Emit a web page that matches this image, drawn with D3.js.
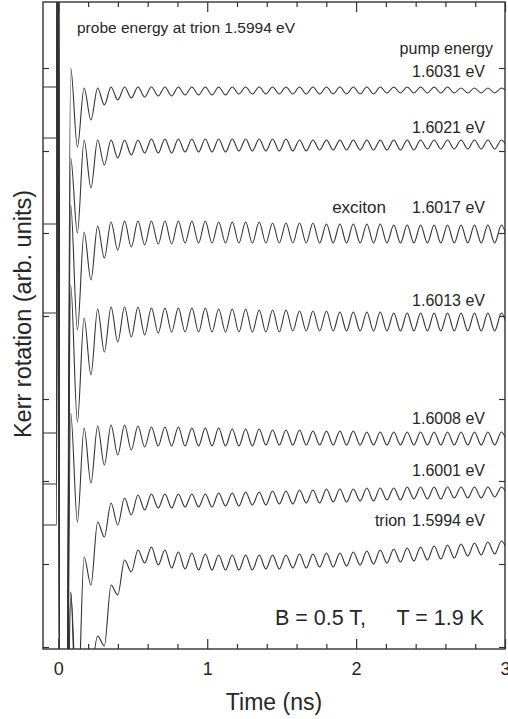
<!DOCTYPE html>
<html>
<head>
<meta charset="utf-8">
<script src="https://cdn.jsdelivr.net/npm/d3@7"></script>
<style>
  body { margin: 0; background: #fff; }
  text { font-family: "Liberation Sans", Arial, Helvetica, sans-serif; fill: #262626; }
</style>
</head>
<body>
<script>
let w = 508;
let h = 719;

// time axis (ns)
let majorTicks = [0, 1, 2, 3];
let minorTicks = [0.2, 0.4, 0.6, 0.8, 1.2, 1.4, 1.6, 1.8, 2.2, 2.4, 2.6, 2.8];
// Kerr rotation ticks (arb. units, no labels)
let yTicks = [2, 85, 168, 250, 333, 416, 498, 581];

// sample times: before zero, the pump spike, then the oscillation extrema
let times = [-0.103, -0.012, -0.002, 0.012, 0.05,
  0.083, 0.128, 0.173, 0.219, 0.264, 0.309, 0.354, 0.399, 0.445, 0.490,
  0.535, 0.580, 0.625, 0.671, 0.716, 0.761, 0.806, 0.851, 0.897, 0.942,
  0.987, 1.032, 1.077, 1.123, 1.168, 1.213, 1.258, 1.303, 1.349, 1.394,
  1.439, 1.484, 1.529, 1.575, 1.620, 1.665, 1.710, 1.755, 1.801, 1.846,
  1.891, 1.936, 1.981, 2.027, 2.072, 2.117, 2.162, 2.207, 2.253, 2.298,
  2.343, 2.388, 2.433, 2.479, 2.524, 2.569, 2.614, 2.659, 2.705, 2.750,
  2.795, 2.840, 2.885, 2.931, 2.976, 3.021];

// pump energies (labels)
let pumpLabels = ["1.6031 eV", "1.6021 eV", "1.6017 eV", "1.6013 eV", "1.6008 eV", "1.6001 eV", "1.5994 eV"];

// Kerr rotation traces, offset for clarity (arb. units)
let k6031 = [562, 562, 950, -350, -300,
  581, 502, 561, 529, 561, 544, 562, 549, 562, 551,
  562, 552, 562, 553, 562, 553, 562, 554, 562, 554,
  562, 554, 562, 554, 562, 555, 562, 555, 562, 555,
  562, 555, 562, 555, 562, 555, 562, 555, 562, 555,
  562, 555, 562, 555, 562, 555, 562, 556, 562, 556,
  562, 556, 562, 556, 562, 556, 562, 556, 561, 556,
  561, 556, 561, 556, 561, 556];
let k6021 = [511, 511, 950, -350, -300,
  491, 416, 509, 461, 509, 484, 509, 491, 509, 494,
  509, 496, 510, 496, 510, 496, 510, 497, 510, 497,
  510, 497, 510, 497, 510, 498, 510, 498, 510, 498,
  510, 498, 510, 498, 509, 498, 509, 499, 509, 499,
  509, 499, 509, 499, 509, 499, 509, 499, 509, 499,
  509, 499, 509, 500, 509, 500, 509, 500, 509, 500,
  509, 500, 509, 500, 509, 500];
let k6017 = [425, 425, 950, -350, -300,
  444, 319, 417, 369, 423, 391, 427, 399, 428, 402,
  428, 404, 428, 405, 428, 405, 428, 406, 428, 406,
  428, 406, 427, 406, 427, 406, 427, 406, 427, 406,
  426, 406, 426, 406, 426, 406, 426, 406, 425, 406,
  425, 406, 425, 406, 425, 406, 425, 406, 424, 406,
  424, 406, 424, 406, 424, 406, 424, 406, 424, 406,
  424, 406, 424, 406, 424, 406];
let k6013 = [336, 336, 950, -350, -300,
  364, 227, 331, 274, 340, 297, 342, 307, 342, 312,
  342, 314, 341, 316, 341, 317, 341, 317, 341, 317,
  341, 317, 340, 317, 340, 317, 340, 317, 339, 317,
  339, 317, 339, 318, 338, 318, 338, 318, 338, 318,
  337, 318, 337, 318, 337, 318, 337, 318, 336, 318,
  336, 318, 336, 318, 336, 318, 336, 318, 336, 318,
  336, 318, 336, 318, 336, 318];
let k6008 = [216, 216, 950, -350, -300,
  236, 127, 221, 166, 223, 184, 224, 194, 224, 199,
  223, 202, 222, 203, 222, 203, 222, 203, 221, 203,
  221, 203, 221, 203, 220, 203, 220, 203, 220, 204,
  219, 204, 219, 204, 219, 204, 218, 204, 218, 204,
  218, 204, 218, 204, 217, 204, 217, 204, 217, 204,
  217, 204, 217, 204, 217, 204, 217, 204, 217, 204,
  217, 204, 217, 204, 217, 204];
let k6001 = [165, 165, 950, -350, -300,
  57, -71, 92, 64, 127, 112, 146, 124, 151, 134,
  154, 139, 155, 141, 155, 141, 155, 142, 155, 142,
  155, 142, 156, 143, 156, 143, 157, 144, 157, 144,
  158, 145, 158, 145, 159, 146, 159, 146, 160, 147,
  160, 147, 160, 148, 161, 148, 161, 149, 161, 149,
  162, 150, 162, 150, 162, 150, 162, 151, 162, 151,
  162, 151, 162, 152, 162, 152];
let k5994 = [124, 124, 950, -350, -300,
  57, -111, -71, -31, 13, 3, 64, 54, 89, 77,
  99, 86, 102, 84, 99, 81, 97, 80, 96, 79,
  95, 79, 94, 79, 94, 79, 94, 79, 94, 80,
  94, 80, 94, 81, 95, 81, 95, 82, 96, 82,
  96, 83, 97, 84, 98, 85, 99, 86, 100, 87,
  101, 88, 102, 89, 103, 90, 104, 91, 105, 93,
  106, 94, 107, 95, 108, 96];

let traces = [k6031, k6021, k6017, k6013, k6008, k6001, k5994];

let margin = {left: 43, right: 3, top: 2, bottom: 70};

let x = d3.scaleLinear()
          .domain([-0.103, 3])
          .range([margin.left, w - margin.right]);

let y = d3.scaleLinear()
          .domain([0, 647])
          .range([h - margin.bottom, margin.top]);

let svg = d3.select("body")
            .append("svg")
            .attr("width", w)
            .attr("height", h);

svg.append("clipPath")
   .attr("id", "plot")
   .append("rect")
   .attr("x", x.range()[0])
   .attr("y", y.range()[1])
   .attr("width", x.range()[1] - x.range()[0])
   .attr("height", y.range()[0] - y.range()[1]);

//traces
let line = d3.line()
             .x(d => x(d[0]))
             .y(d => y(d[1]))
             .curve(d3.curveMonotoneX);

svg.append("g")
   .attr("clip-path", "url(#plot)")
   .selectAll("path")
   .data(traces)
   .enter()
   .append("path")
   .attr("d", d => line(times.map((t, i) => [t, d[i]])))
   .attr("fill", "none")
   .attr("stroke", "#333")
   .attr("stroke-width", 1.1);

//axes, ticks pointing inwards
function styleAxis(g) {
	g.select(".domain").remove();
	g.selectAll(".tick line").attr("stroke", "#333").attr("stroke-width", 1.2);
	g.selectAll("text")
	 .attr("font-family", null)
	 .style("font-size", "18px");
}

let yBottom = h - margin.bottom;
let yTop = margin.top;

svg.append("g")
   .attr("transform", `translate(0,${yBottom})`)
   .call(d3.axisBottom(x).tickValues(majorTicks).tickSize(-10).tickPadding(13).tickFormat(d3.format("d")))
   .call(styleAxis);
svg.append("g")
   .attr("transform", `translate(0,${yBottom})`)
   .call(d3.axisBottom(x).tickValues(minorTicks).tickSize(-5).tickFormat(""))
   .call(styleAxis);
svg.append("g")
   .attr("transform", `translate(0,${yTop})`)
   .call(d3.axisTop(x).tickValues(majorTicks).tickSize(-10).tickFormat(""))
   .call(styleAxis);
svg.append("g")
   .attr("transform", `translate(0,${yTop})`)
   .call(d3.axisTop(x).tickValues(minorTicks).tickSize(-5).tickFormat(""))
   .call(styleAxis);
svg.append("g")
   .attr("transform", `translate(${x.range()[0]},0)`)
   .call(d3.axisLeft(y).tickValues(yTicks).tickSize(-6).tickFormat(""))
   .call(styleAxis);
svg.append("g")
   .attr("transform", `translate(${x.range()[1]},0)`)
   .call(d3.axisRight(y).tickValues(yTicks).tickSize(-6).tickFormat(""))
   .call(styleAxis);

//frame
svg.append("rect")
   .attr("x", x.range()[0])
   .attr("y", y.range()[1])
   .attr("width", x.range()[1] - x.range()[0])
   .attr("height", y.range()[0] - y.range()[1])
   .attr("fill", "none")
   .attr("stroke", "#333")
   .attr("stroke-width", 1.4);

//axis titles
svg.append("text")
   .attr("x", (x.range()[0] + x.range()[1]) / 2)
   .attr("y", 710)
   .attr("text-anchor", "middle")
   .style("font-size", "23px")
   .text("Time (ns)");

svg.append("text")
   .attr("transform", "translate(31,314) rotate(-90)")
   .attr("text-anchor", "middle")
   .style("font-size", "23.5px")
   .text("Kerr rotation (arb. units)");

//annotations
let small = "16px";
svg.append("text")
   .attr("x", 77).attr("y", 33)
   .style("font-size", "15.5px")
   .text("probe energy at trion 1.5994 eV");
svg.append("text")
   .attr("x", 493).attr("y", 54)
   .attr("text-anchor", "end")
   .style("font-size", small)
   .text("pump energy");

let labelY = [77, 133, 213, 306, 424, 476, 526];
svg.selectAll(".pump")
   .data(pumpLabels)
   .enter()
   .append("text")
   .attr("class", "pump")
   .attr("x", 485)
   .attr("y", (d, i) => labelY[i])
   .attr("text-anchor", "end")
   .style("font-size", small)
   .text(d => d);

svg.append("text")
   .attr("x", 386).attr("y", 213)
   .attr("text-anchor", "end")
   .style("font-size", "17px")
   .text("exciton");
svg.append("text")
   .attr("x", 406).attr("y", 526)
   .attr("text-anchor", "end")
   .style("font-size", small)
   .text("trion");

svg.append("text")
   .attr("x", 275).attr("y", 625)
   .style("font-size", "21.5px")
   .text("B = 0.5 T,");
svg.append("text")
   .attr("x", 484).attr("y", 625)
   .attr("text-anchor", "end")
   .style("font-size", "21.5px")
   .text("T = 1.9 K");
</script>
</body>
</html>
